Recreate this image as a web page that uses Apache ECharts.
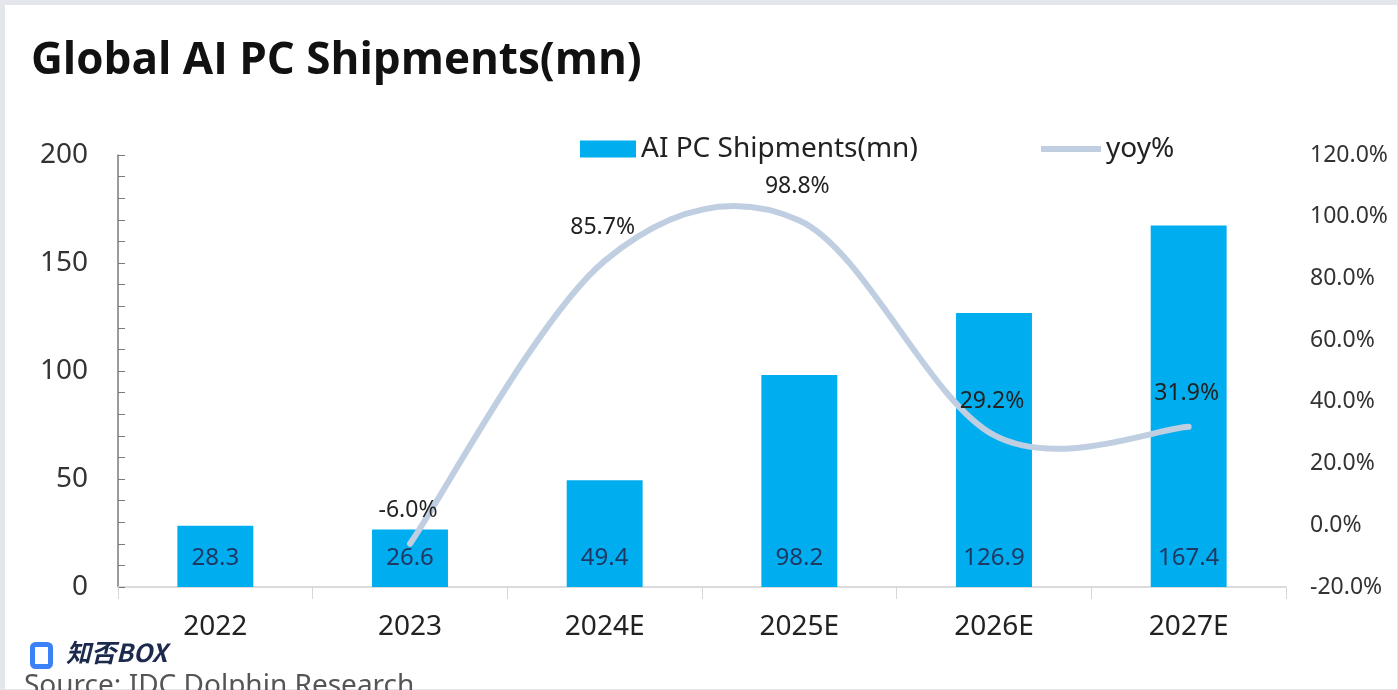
<!DOCTYPE html>
<html>
<head>
<meta charset="utf-8">
<script src="https://cdn.jsdelivr.net/npm/echarts@6/dist/echarts.min.js"></script>
<style>
html,body{margin:0;padding:0;background:#fff;}
#chart{width:1398px;height:690px;}
</style>
</head>
<body>
<div id="chart"></div>
<script>
const categories = ['2022','2023','2024E','2025E','2026E','2027E'];
const shipments = [28.3, 26.6, 49.4, 98.2, 126.9, 167.4];
const yoy = [null, -6.0, 85.7, 98.8, 29.2, 31.9];
const leftTicks = {min: 0, max: 200, interval: 50};
const rightTicks = {min: -20, max: 120, interval: 20};

const yoyData = [];
yoy.forEach((v, i) => { if (v != null) yoyData.push([i, v]); });

const font = '"Noto Sans", "Open Sans", sans-serif';
const lineColor = '#BFCEE0';

// Excel-like smoothed curve (Bezier with 1/6 tangent), drawn through points from api.coord
function smoothPath(pts) {
  let d = 'M' + pts[0][0] + ',' + pts[0][1];
  for (let i = 0; i < pts.length - 1; i++) {
    const p0 = pts[i - 1] || pts[i];
    const p1 = pts[i];
    const p2 = pts[i + 1];
    const p3 = pts[i + 2] || pts[i + 1];
    const c1x = p1[0] + (p2[0] - p0[0]) / 6, c1y = p1[1] + (p2[1] - p0[1]) / 6;
    const c2x = p2[0] - (p3[0] - p1[0]) / 6, c2y = p2[1] - (p3[1] - p1[1]) / 6;
    d += ' C' + c1x + ',' + c1y + ' ' + c2x + ',' + c2y + ' ' + p2[0] + ',' + p2[1];
  }
  return d;
}

const chart = echarts.init(document.getElementById('chart'));
chart.setOption({
  backgroundColor: '#fff',
  animation: false,
  textStyle: {fontFamily: font},
  title: {
    text: 'Global AI PC Shipments(mn)',
    left: 26, top: 34,
    textStyle: {fontFamily: '"Open Sans", sans-serif', fontWeight: 'bold', fontSize: 44, color: '#111'}
  },
  legend: [
    {
      left: 575, top: 130,
      itemWidth: 56, itemHeight: 17,
      textStyle: {fontSize: 28, color: '#222', fontFamily: font},
      data: [{name: 'AI PC Shipments(mn)', icon: 'rect'}]
    },
    {
      left: 1036, top: 130,
      itemWidth: 60, itemHeight: 17,
      symbolKeepAspect: true,
      textStyle: {fontSize: 28, color: '#222', fontFamily: font},
      data: [{name: 'yoy%', icon: 'path://M0,0H60V6H0Z'}]
    }
  ],
  grid: {left: 118, right: 112, top: 155, bottom: 103, containLabel: false},
  xAxis: {
    type: 'category',
    data: categories,
    axisLine: {lineStyle: {color: '#d0d0d0', width: 1.5}},
    axisTick: {show: true, alignWithLabel: false, length: 12, lineStyle: {color: '#d6d6d6'}},
    axisLabel: {fontSize: 28, color: '#222', margin: 26}
  },
  yAxis: [
    {
      type: 'value', min: leftTicks.min, max: leftTicks.max, interval: leftTicks.interval,
      axisLine: {show: true, lineStyle: {color: '#7a7a7a', width: 1.5}},
      axisTick: {show: true, inside: true, length: 7, lineStyle: {color: '#7a7a7a'}},
      minorTick: {show: true, splitNumber: 5, length: 7, lineStyle: {color: '#7a7a7a'}},
      splitLine: {show: false},
      axisLabel: {fontSize: 28, color: '#333', margin: 30}
    },
    {
      type: 'value', min: rightTicks.min, max: rightTicks.max, interval: rightTicks.interval,
      axisLine: {show: false}, axisTick: {show: false}, splitLine: {show: false},
      axisLabel: {fontSize: 23, color: '#333', margin: 24, formatter: v => v.toFixed(1) + '%'}
    }
  ],
  series: [
    {
      name: 'AI PC Shipments(mn)',
      type: 'bar',
      data: shipments,
      barWidth: '39%',
      itemStyle: {color: '#00AEEF'},
      label: {show: true, position: 'insideBottom', distance: 17, fontSize: 24, color: '#1F3864',
        formatter: p => p.value.toFixed(1)}
    },
    {
      name: 'yoy%',
      type: 'custom',
      coordinateSystem: 'cartesian2d',
      xAxisIndex: 0,
      yAxisIndex: 1,
      data: yoyData,
      encode: {x: 0, y: 1},
      itemStyle: {color: lineColor},
      z: 5,
      renderItem: function (params, api) {
        const pts = yoyData.map(d => api.coord([d[0], d[1]]));
        const children = [];
        if (params.dataIndex === 0) {
          children.push({
            type: 'path',
            shape: {pathData: smoothPath(pts)},
            style: {fill: 'none', stroke: lineColor, lineWidth: 6, lineCap: 'round'},
            z2: 1
          });
        }
        const p = pts[params.dataIndex];
        children.push({
          type: 'text',
          x: p[0] - 2, y: p[1] - 22,
          z2: 10,
          style: {
            text: yoyData[params.dataIndex][1].toFixed(1) + '%',
            align: 'center', verticalAlign: 'bottom',
            font: '23px "Noto Sans", sans-serif', fill: '#222'
          }
        });
        return {type: 'group', children: children};
      }
    }
  ],
  graphic: [
    {type: 'rect', left: 0, top: 0, shape: {width: 1397, height: 689},
      style: {fill: 'none', stroke: '#e3e7ec', lineWidth: 5}, silent: true},
    {type: 'rect', left: 30, top: 642, shape: {width: 18, height: 22, r: 3},
      style: {fill: 'none', stroke: '#3b82f6', lineWidth: 5}, silent: true},
    {type: 'text', left: 66, top: 640,
      style: {text: '知否BOX', font: 'italic bold 25px "Noto Sans CJK SC", sans-serif', fill: '#1c2a4e'}},
    {type: 'text', left: 24, top: 672,
      style: {text: 'Source: IDC Dolphin Research', font: '28px "Noto Sans", sans-serif', fill: '#555'}}
  ]
});
</script>
</body>
</html>
